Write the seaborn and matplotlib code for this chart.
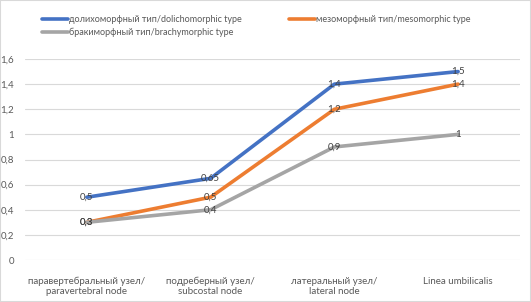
import numpy as np
import pandas as pd
import seaborn as sns
import matplotlib.pyplot as plt

# data
categories = ["паравертебральный узел/\nparavertebral node",
              "подреберный узел/\nsubcostal node",
              "латеральный узел/\nlateral node",
              "Linea umbilicalis"]
series_names = ["долихоморфный тип/dolichomorphic type",
                "мезоморфный тип/mesomorphic type",
                "бракиморфный тип/brachymorphic type"]
dolicho = [0.5, 0.65, 1.4, 1.5]
meso = [0.3, 0.5, 1.2, 1.4]
brachy = [0.3, 0.4, 0.9, 1.0]
value_labels = [["0,5", "0,65", "1,4", "1,5"],
                ["0,3", "0,5", "1,2", "1,4"],
                ["0,3", "0,4", "0,9", "1"]]
yticks = [0, 0.2, 0.4, 0.6, 0.8, 1.0, 1.2, 1.4, 1.6]
ytick_labels = ["0", "0,2", "0,4", "0,6", "0,8", "1", "1,2", "1,4", "1,6"]

colors = ["#4472C4", "#ED7D31", "#A5A5A5"]

df = pd.DataFrame({
    "cat": categories * 3,
    "val": dolicho + meso + brachy,
    "series": np.repeat(series_names, len(categories)),
})

sns.set_style("white")
plt.rcParams['font.family'] = ['Lato', 'DejaVu Sans']

fig = plt.figure(figsize=(5.31, 3.02), dpi=100)
ax = fig.add_axes([25 / 531, 1 - 260 / 302, 495 / 531, 201 / 302])

sns.lineplot(data=df, x="cat", y="val", hue="series", palette=colors,
             hue_order=series_names, sort=False, linewidth=2.6,
             legend=False, ax=ax)

# data labels
for lbls, vals in zip(value_labels, [dolicho, meso, brachy]):
    for i, (t, v) in enumerate(zip(lbls, vals)):
        ax.text(i, v, t, ha="center", va="center", fontsize=7, color="#404040")

ax.set_xlim(-0.5, len(categories) - 0.5)
ax.set_ylim(0, 1.6)
ax.set_yticks(yticks)
ax.set_yticklabels(ytick_labels)
ax.set_xlabel("")
ax.set_ylabel("")
ax.tick_params(axis="both", length=0, labelsize=7, labelcolor="#595959")
ax.tick_params(axis="y", pad=8)
ax.tick_params(axis="x", pad=12)
ax.grid(axis="y", color="#D9D9D9", linewidth=0.8)
ax.set_axisbelow(True)
for s in ax.spines.values():
    s.set_visible(False)
for ln in ax.get_lines():
    ln.set_solid_capstyle("round")
    ln.set_solid_joinstyle("round")

# legend: ordered so column 1 holds dolicho + brachy, column 2 holds meso
lines = ax.get_lines()
handles = [lines[0], lines[2], lines[1]]
labels = [series_names[0], series_names[2], series_names[1]]
fig.legend(handles, labels, ncol=2, loc="upper left",
           bbox_to_anchor=(34 / 531, 1 - 7 / 302), frameon=False,
           fontsize=6.5, handlelength=2.9, handletextpad=0.1,
           columnspacing=5.2, labelspacing=0.45, labelcolor="#595959")

# outer border
fig.patches.append(plt.Rectangle((0, 0), 1, 1, transform=fig.transFigure,
                                 fill=False, edgecolor="#D9D9D9", linewidth=1.5))

fig.savefig("out.png", dpi=100)
